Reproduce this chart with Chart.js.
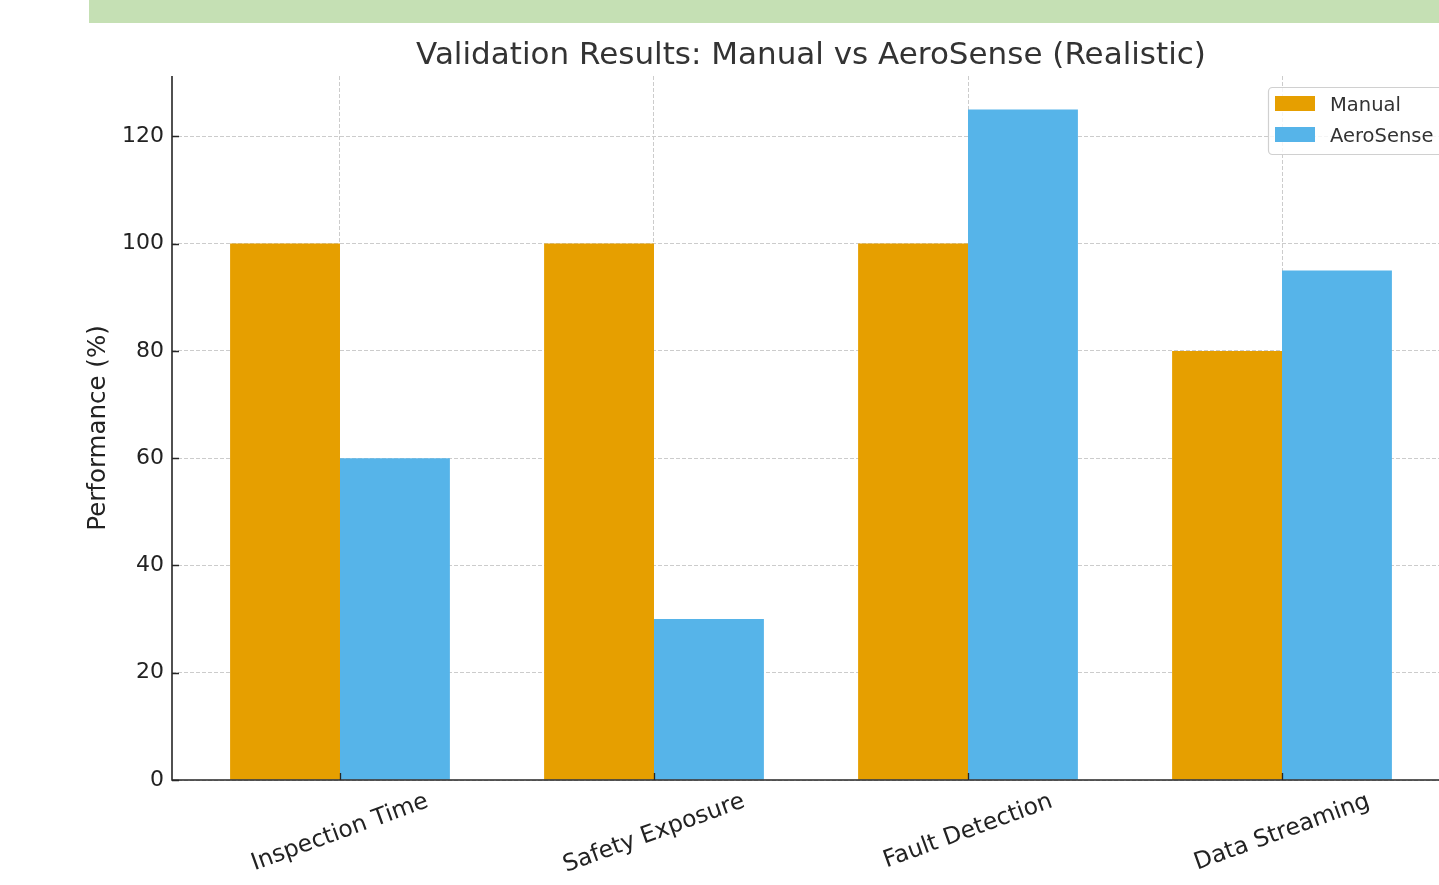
<!DOCTYPE html>
<html>
<head>
<meta charset="utf-8">
<script src="https://cdn.jsdelivr.net/npm/chart.js@4.4.1/dist/chart.umd.min.js"></script>
<style>
  html, body { margin: 0; padding: 0; background: #fff; overflow: hidden; width: 1439px; height: 885px; }
  #band { position: absolute; left: 89px; top: 0; width: 1350px; height: 23px; background: #c5e0b4; z-index: 2; }
  #chart { position: absolute; left: 0; top: 0; }
</style>
</head>
<body>
<div id="band"></div>
<canvas id="chart" width="1460" height="885"></canvas>
<script>
// --- data ---
const categories = ["Inspection Time", "Safety Exposure", "Fault Detection", "Data Streaming"];
const manualValues = [100, 100, 100, 80];
const aeroSenseValues = [60, 30, 125, 95];
const yTickValues = [0, 20, 40, 60, 80, 100, 120];
const seriesNames = ["Manual", "AeroSense"];
const seriesColors = ["#E69F00", "#56B4E9"];

const FONT = "'DejaVu Sans', sans-serif";
const INK = "#333333";

// titles, rotated category labels, spines and legend drawn on the canvas
const extras = {
  id: "extras",
  afterDatasetsDraw(chart) {
    const { ctx, chartArea: a, scales } = chart;
    ctx.save();
    ctx.strokeStyle = "#262626";
    ctx.lineWidth = 1.6;
    ctx.beginPath();
    ctx.moveTo(a.left, a.top);
    ctx.lineTo(a.left, a.bottom);
    ctx.lineTo(a.right, a.bottom);
    ctx.stroke();
    // inward tick marks
    ctx.lineWidth = 1.3;
    ctx.beginPath();
    yTickValues.forEach(v => {
      const y = Math.round(scales.y.getPixelForValue(v)) + 0.5;
      ctx.moveTo(a.left, y); ctx.lineTo(a.left + 7, y);
    });
    categories.forEach((c, i) => {
      const x = Math.round(scales.x.getPixelForValue(i)) + 0.5;
      ctx.moveTo(x, a.bottom); ctx.lineTo(x, a.bottom - 7);
    });
    ctx.stroke();
    ctx.restore();
  },
  afterDraw(chart) {
    const { ctx, chartArea: a, scales } = chart;
    ctx.save();
    // title
    ctx.fillStyle = INK;
    ctx.font = `31px ${FONT}`;
    ctx.textAlign = "center";
    ctx.textBaseline = "alphabetic";
    ctx.fillText("Validation Results: Manual vs AeroSense (Realistic)", (a.left + a.right) / 2, 64);

    // y title
    ctx.save();
    ctx.translate(99, (a.top + a.bottom) / 2);
    ctx.rotate(-Math.PI / 2);
    ctx.font = `24.5px ${FONT}`;
    ctx.fillStyle = "#222";
    ctx.textBaseline = "middle";
    ctx.fillText("Performance (%)", 0, 0);
    ctx.restore();

    // x labels, rotated 20deg, centred under the tick
    ctx.font = `23.5px ${FONT}`;
    ctx.fillStyle = "#222";
    ctx.textBaseline = "middle";
    const rot = 20 * Math.PI / 180;
    categories.forEach((c, i) => {
      const w = ctx.measureText(c).width;
      const h = 23;
      const boxH = w * Math.sin(rot) + h * Math.cos(rot);
      ctx.save();
      ctx.translate(scales.x.getPixelForValue(i), a.bottom + 10 + boxH / 2);
      ctx.rotate(-rot);
      ctx.fillText(c, 0, 0);
      ctx.restore();
    });

    // legend
    const lx = 1268, ly = 87, lw = 176, lh = 67;
    ctx.fillStyle = "rgba(255,255,255,0.8)";
    ctx.strokeStyle = "#d0d0d0";
    ctx.lineWidth = 1.2;
    ctx.beginPath();
    ctx.roundRect(lx + 0.5, ly + 0.5, lw, lh, 4);
    ctx.fill();
    ctx.stroke();
    ctx.font = `19.5px ${FONT}`;
    ctx.textAlign = "left";
    ctx.textBaseline = "alphabetic";
    seriesNames.forEach((name, i) => {
      const top = 96 + i * 31;
      ctx.fillStyle = seriesColors[i];
      ctx.fillRect(1275, top, 40, 15);
      ctx.fillStyle = INK;
      ctx.fillText(name, 1330, top + 15);
    });
    ctx.restore();
  }
};

const toPoints = vals => vals.map((v, i) => ({ x: i, y: v }));
const gridStyle = { color: "#cccccc", lineWidth: 1, drawTicks: false, offset: false };

new Chart(document.getElementById("chart"), {
  type: "bar",
  data: {
    datasets: [
      { label: seriesNames[0], data: toPoints(manualValues), backgroundColor: seriesColors[0] },
      { label: seriesNames[1], data: toPoints(aeroSenseValues), backgroundColor: seriesColors[1] },
    ].map(d => ({ ...d, borderWidth: 0, categoryPercentage: 0.7, barPercentage: 1.0 })),
  },
  options: {
    responsive: false,
    animation: false,
    layout: { padding: { top: 76, right: 10, left: 0, bottom: 0 } },
    plugins: { legend: { display: false }, tooltip: { enabled: false }, title: { display: false } },
    scales: {
      x: {
        type: "linear",
        offset: false,
        min: -0.535,
        max: 3.535,
        grid: gridStyle,
        border: { display: false, dash: [4, 2] },
        ticks: { display: false },
        afterBuildTicks: s => { s.ticks = categories.map((c, i) => ({ value: i })); },
        afterFit: s => { s.height = 105; },
      },
      y: {
        min: 0,
        max: 131.25,
        grid: gridStyle,
        border: { display: false, dash: [4, 2] },
        ticks: { padding: 8, color: "#222", font: { family: FONT, size: 22 } },
        afterBuildTicks: s => { s.ticks = yTickValues.map(v => ({ value: v })); },
        afterFit: s => { s.width = 172; },
      },
    },
  },
  plugins: [extras],
});
</script>
</body>
</html>
